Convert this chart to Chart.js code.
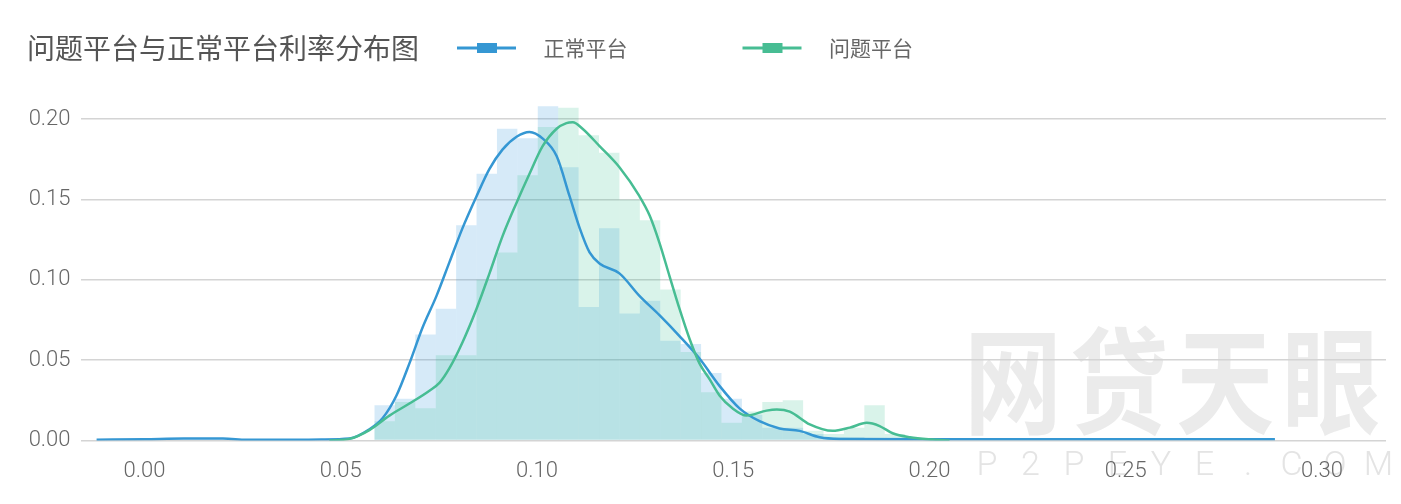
<!DOCTYPE html>
<html>
<head>
<meta charset="utf-8">
<title>问题平台与正常平台利率分布图</title>
<script src="https://cdn.jsdelivr.net/npm/chart.js@4.4.1/dist/chart.umd.min.js"></script>
<style>
  html, body { margin: 0; padding: 0; background: #fff; }
  #wrap { width: 1401px; height: 504px; position: relative; }
</style>
</head>
<body>
<div id="wrap"><canvas id="rateChart"></canvas></div>
<script>
// 直方图分箱中心（利率）和两组频率
var binCenters = [0.0612, 0.0664, 0.0716, 0.0768, 0.0820, 0.0872, 0.0924, 0.0976, 0.1028, 0.1080,
                  0.1132, 0.1184, 0.1236, 0.1288, 0.1340, 0.1392, 0.1444, 0.1496, 0.1548, 0.1600,
                  0.1652, 0.1704, 0.1756, 0.1808, 0.1860, 0.1912];
var normalHist = [0.022, 0.026, 0.066, 0.082, 0.134, 0.166, 0.194, 0.188, 0.208, 0.170,
                  0.083, 0.132, 0.079, 0.087, 0.062, 0.060, 0.042, 0.026, 0.016, 0.008,
                  0.008, 0.004, 0.002, 0.002, 0.001, 0.001];
var problemHist = [0.012, 0.024, 0.020, 0.053, 0.053, 0.100, 0.117, 0.165, 0.195, 0.207,
                   0.190, 0.179, 0.150, 0.137, 0.094, 0.055, 0.030, 0.011, 0.018, 0.024,
                   0.025, 0.006, 0.004, 0.008, 0.022, 0.004];

// 核密度曲线
var normalKdeX = [-0.0122, 0.000, 0.010, 0.020, 0.026, 0.035, 0.045, 0.0522, 0.0573, 0.0607,
                  0.0642, 0.0675, 0.0708, 0.0744, 0.0777, 0.0810, 0.0846, 0.0879, 0.0912, 0.0948,
                  0.0981, 0.1014, 0.1050, 0.1083, 0.1109, 0.1134, 0.1160, 0.1210, 0.1261, 0.1312,
                  0.1363, 0.1414, 0.1465, 0.1516, 0.1567, 0.1618, 0.1669, 0.1720, 0.1771, 0.200,
                  0.250, 0.288];
var normalKdeY = [0.0005, 0.0008, 0.0012, 0.0012, 0.0005, 0.0004, 0.0006, 0.0012, 0.0070, 0.014,
                  0.028, 0.048, 0.070, 0.090, 0.111, 0.132, 0.152, 0.169, 0.181, 0.189,
                  0.192, 0.188, 0.177, 0.152, 0.132, 0.117, 0.110, 0.104, 0.090, 0.078,
                  0.065, 0.051, 0.034, 0.020, 0.012, 0.0075, 0.006, 0.002, 0.001, 0.0008,
                  0.0008, 0.0008];
var problemKdeX = [0.0471, 0.0522, 0.0573, 0.0624, 0.0675, 0.0726, 0.0752, 0.0777, 0.0810, 0.0846,
                   0.0879, 0.0912, 0.0948, 0.0981, 0.1014, 0.1050, 0.1075, 0.1091, 0.1116, 0.1160,
                   0.1210, 0.1261, 0.1287, 0.1312, 0.1338, 0.1363, 0.1389, 0.1414, 0.1440, 0.1465,
                   0.1498, 0.1534, 0.1585, 0.1611, 0.1644, 0.1695, 0.1753, 0.1797, 0.1840, 0.1873,
                   0.1906, 0.1950, 0.2008, 0.2051];
var problemKdeY = [0.000, 0.001, 0.0065, 0.0155, 0.023, 0.031, 0.036, 0.045, 0.061, 0.082,
                   0.104, 0.127, 0.148, 0.166, 0.183, 0.194, 0.1975, 0.198, 0.194, 0.183,
                   0.170, 0.152, 0.140, 0.123, 0.102, 0.082, 0.063, 0.048, 0.038, 0.028,
                   0.020, 0.0155, 0.0186, 0.0193, 0.018, 0.010, 0.006, 0.008, 0.011, 0.009,
                   0.0045, 0.002, 0.0006, 0.000];

var xTickValues = [0, 0.05, 0.10, 0.15, 0.20, 0.25, 0.30];
var yTickValues = [0, 0.05, 0.10, 0.15, 0.20];

var BLUE = "#3597d3";
var GREEN = "#47bd93";

function pairs(xs, ys) {
    return xs.map(function (x, i) { return { x: x, y: ys[i] }; });
}

// 图例标记：线段中间带一个小方块
function legendMarker(color) {
    var c = document.createElement("canvas");
    c.width = 186;
    c.height = 14;
    var g = c.getContext("2d");
    g.fillStyle = color;
    g.fillRect(110, 5.5, 59, 3);
    g.fillRect(130, 2, 20, 10);
    return c;
}
var markers = [legendMarker(BLUE), legendMarker(GREEN)];

// 水印
var watermark = {
    id: "watermark",
    beforeDraw: function (chart) {
        var ctx = chart.ctx;
        ctx.save();
        ctx.textAlign = "center";
        ctx.textBaseline = "middle";
        ctx.fillStyle = "#ebebeb";
        ctx.font = 'bold 98px "Noto Sans CJK SC"';
        ctx.save();
        ctx.translate(0, 381);
        ctx.scale(1, 1.18);
        ["网", "贷", "天", "眼"].forEach(function (ch, i) {
            ctx.fillText(ch, 1013 + i * 106, 0);
        });
        ctx.restore();
        ctx.fillStyle = "#e4e4e4";
        ctx.font = '300 34px Roboto';
        "P2PEYE.COM".split("").forEach(function (ch, i) {
            ctx.fillText(ch, 987 + i * 43.5, 466);
        });
        ctx.restore();
    }
};

// 把图例挪到标题同一行
var placeLegend = {
    id: "placeLegend",
    afterLayout: function (chart) {
        var lg = chart.legend;
        var h = lg.height;
        lg.left = 342;
        lg.top = 32.5;
        lg.bottom = lg.top + h;
    }
};

var tickFont = { family: "Roboto", size: 22, weight: "300" };
var cjk = '"Noto Sans CJK SC", "Noto Sans", sans-serif';

var ctx = document.getElementById("rateChart").getContext("2d");
var rateChart = new Chart(ctx, {
    type: "bar",
    data: {
        datasets: [{
            type: "line",
            label: "正常平台",
            data: pairs(normalKdeX, normalKdeY),
            borderColor: BLUE,
            backgroundColor: BLUE,
            borderWidth: 2.5,
            pointRadius: 0,
            cubicInterpolationMode: "monotone",
            order: 1
        }, {
            type: "line",
            label: "问题平台",
            data: pairs(problemKdeX, problemKdeY),
            borderColor: GREEN,
            backgroundColor: GREEN,
            borderWidth: 2.5,
            pointRadius: 0,
            cubicInterpolationMode: "monotone",
            order: 0
        }, {
            label: "正常平台分布",
            data: pairs(binCenters, normalHist),
            backgroundColor: "rgba(52, 152, 219, 0.2)",
            borderWidth: 0,
            inflateAmount: 0,
            barPercentage: 1,
            categoryPercentage: 1,
            grouped: false,
            order: 3
        }, {
            label: "问题平台分布",
            data: pairs(binCenters, problemHist),
            backgroundColor: "rgba(46, 190, 140, 0.18)",
            borderWidth: 0,
            inflateAmount: 0,
            barPercentage: 1,
            categoryPercentage: 1,
            grouped: false,
            order: 2
        }]
    },
    options: {
        responsive: true,
        maintainAspectRatio: false,
        animation: false,
        layout: { padding: { left: 27, right: 15, top: 0, bottom: 19.5 } },
        plugins: {
            tooltip: { enabled: false },
            title: {
                display: true,
                text: "问题平台与正常平台利率分布图",
                align: "start",
                color: "#555",
                font: { family: cjk, size: 28, weight: "normal" },
                padding: { top: 31.2, bottom: 2.2 }
            },
            legend: {
                position: "top",
                align: "start",
                labels: {
                    color: "#666",
                    font: { family: cjk, size: 21 },
                    padding: 5,
                    usePointStyle: true,
                    pointStyleWidth: 186,
                    generateLabels: function (chart) {
                        return Chart.defaults.plugins.legend.labels.generateLabels(chart)
                            .filter(function (l) { return l.datasetIndex < 2; })
                            .sort(function (a, b) { return a.datasetIndex - b.datasetIndex; })
                            .map(function (l) { l.pointStyle = markers[l.datasetIndex]; return l; });
                    }
                }
            }
        },
        scales: {
            x: {
                type: "linear",
                offset: false,
                min: -0.0163,
                max: 0.3163,
                afterBuildTicks: function (axis) {
                    axis.ticks = xTickValues.map(function (v) { return { value: v }; });
                },
                afterFit: function (axis) { axis.height = 44; },
                ticks: {
                    color: "#666",
                    font: tickFont,
                    padding: 18,
                    maxRotation: 0,
                    callback: function (v) { return Number(v).toFixed(2); }
                },
                grid: { display: false, drawTicks: false },
                border: { display: false }
            },
            y: {
                min: 0,
                max: 0.21,
                afterBuildTicks: function (axis) {
                    axis.ticks = yTickValues.map(function (v) { return { value: v }; });
                },
                afterFit: function (axis) { axis.width = 53.5; },
                ticks: {
                    color: "#666",
                    font: tickFont,
                    padding: 10,
                    callback: function (v) { return Number(v).toFixed(2); }
                },
                grid: { color: "#d4d4d4", lineWidth: 1.5, drawTicks: false },
                border: { display: false }
            }
        }
    },
    plugins: [watermark, placeLegend]
});
</script>
</body>
</html>
